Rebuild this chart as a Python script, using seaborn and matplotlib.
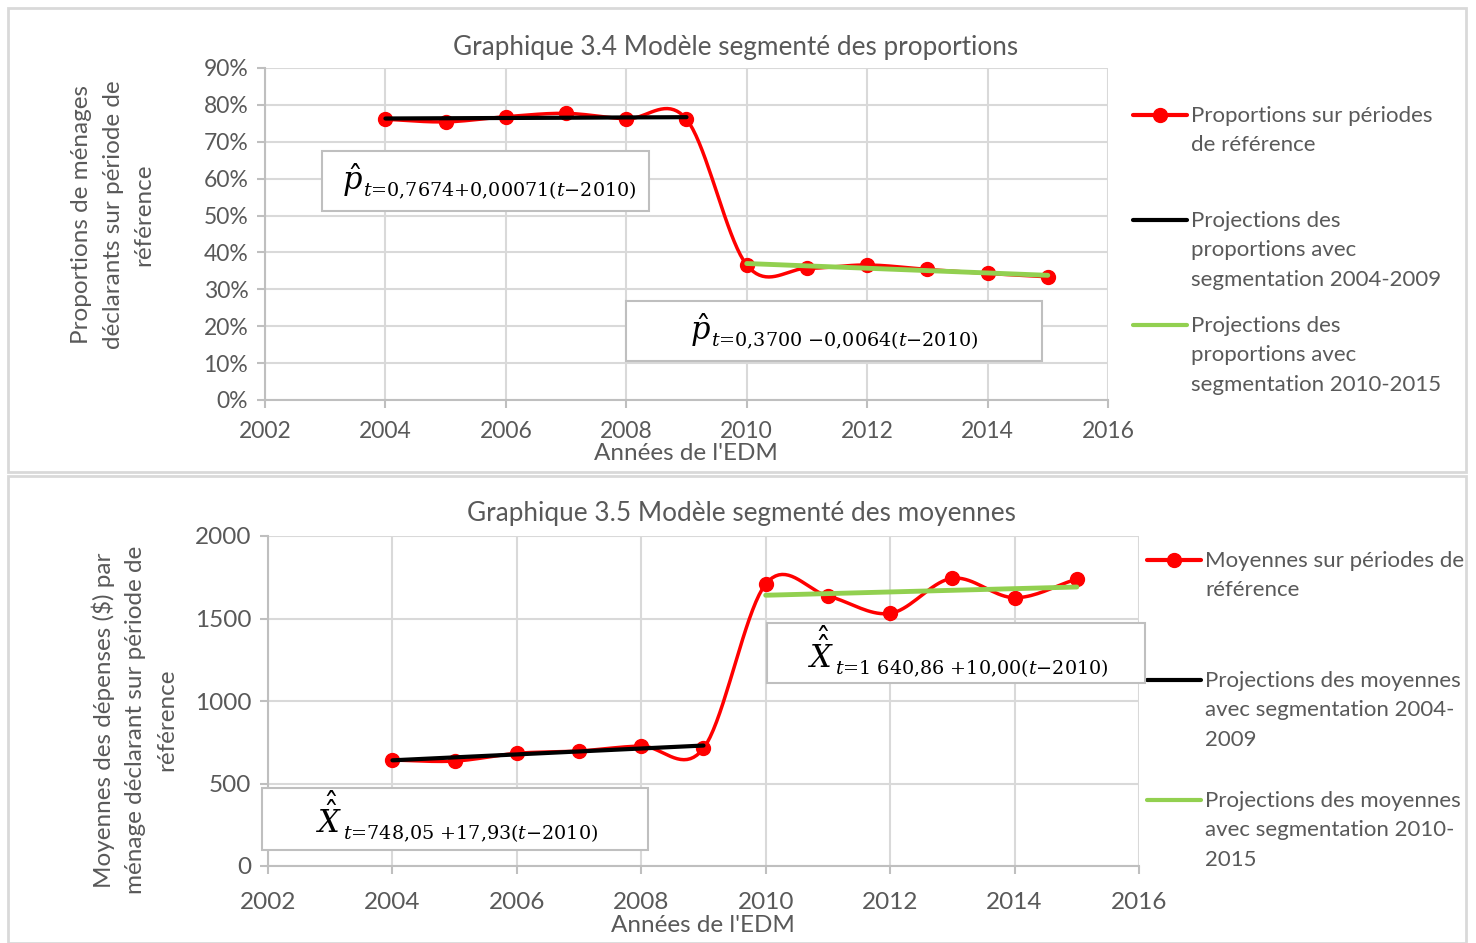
import numpy as np
import matplotlib.pyplot as plt
import seaborn as sns
from matplotlib.lines import Line2D
from matplotlib.patches import Rectangle
from matplotlib.text import Annotation

# données
annees = [2004, 2005, 2006, 2007, 2008, 2009, 2010, 2011, 2012, 2013, 2014, 2015]
proportions = [0.761, 0.754, 0.768, 0.777, 0.762, 0.761, 0.366, 0.357, 0.366, 0.354, 0.343, 0.334]
proj_p_0409 = [0.7631, 0.7638, 0.7645, 0.7652, 0.7660, 0.7667]
proj_p_1015 = [0.3700, 0.3636, 0.3572, 0.3508, 0.3444, 0.3380]
moyennes = [642, 636, 683, 697, 727, 713, 1709, 1636, 1531, 1744, 1626, 1739]
proj_m_0409 = [640.5, 658.4, 676.3, 694.3, 712.2, 730.1]
proj_m_1015 = [1640.9, 1650.9, 1660.9, 1670.9, 1680.9, 1690.9]

W, H = 1476, 943
GRIS = '#595959'
GRILLE = '#d9d9d9'
VERT = '#92d050'

sns.set_theme(style='white')
plt.rcParams['font.family'] = ['Lato', 'DejaVu Sans']
plt.rcParams['mathtext.fontset'] = 'dejavuserif'


def fx(px):
    return px / W


def fy(py):
    return 1 - py / H


def lisse(x, y, n=20):
    # courbe lissée type Excel (Catmull-Rom) passant par les points
    x = np.asarray(x, float)
    y = np.asarray(y, float)
    px = np.concatenate([[2 * x[0] - x[1]], x, [2 * x[-1] - x[-2]]])
    py = np.concatenate([[2 * y[0] - y[1]], y, [2 * y[-1] - y[-2]]])
    xs, ys = [], []
    t = np.linspace(0, 1, n)
    for i in range(1, len(px) - 2):
        for arr, out in ((px, xs), (py, ys)):
            p0, p1, p2, p3 = arr[i - 1], arr[i], arr[i + 1], arr[i + 2]
            out.extend(0.5 * (2 * p1 + (-p0 + p2) * t
                              + (2 * p0 - 5 * p1 + 4 * p2 - p3) * t ** 2
                              + (-p0 + 3 * p1 - 3 * p2 + p3) * t ** 3))
    return xs, ys


fig = plt.figure(figsize=(14.76, 9.43), dpi=100)

# cadres des deux graphiques
fig.add_artist(Rectangle((fx(8), fy(472)), fx(1458), 464 / H, transform=fig.transFigure,
                         fill=False, edgecolor=GRILLE, lw=2))
fig.add_artist(Rectangle((fx(8), fy(943)), fx(1458), 467 / H, transform=fig.transFigure,
                         fill=False, edgecolor=GRILLE, lw=2))


def prepare(ax, ylim, yticks, fs, padx):
    ax.set_xlim(2002, 2016)
    ax.set_ylim(*ylim)
    ax.set_xticks(range(2002, 2017, 2))
    ax.set_yticks(yticks)
    ax.grid(True, color=GRILLE, lw=1.5)
    ax.set_axisbelow(True)
    for s in ['top', 'right']:
        ax.spines[s].set_visible(False)
    for s in ['left', 'bottom']:
        ax.spines[s].set_color('#bfbfbf')
        ax.spines[s].set_linewidth(1.5)
    ax.tick_params(axis='both', direction='out', length=6, width=1.5, color='#bfbfbf',
                   labelsize=fs, labelcolor=GRIS, left=True, bottom=True, pad=6)
    ax.tick_params(axis='x', pad=padx)


def trace(ax, y, proj1, proj2):
    xa, ya = lisse(annees, y)
    ax.plot(xa, ya, color='red', lw=2.5, zorder=3)
    ax.plot(annees, y, 'o', color='red', ms=10, zorder=4)
    ax.plot(annees[:6], proj1, color='black', lw=3, zorder=5)
    ax.plot(annees[6:], proj2, color=VERT, lw=3.5, zorder=5)


def boite(x0, y0, x1, y1, xt, sym, sub, dy, off):
    fig.add_artist(Rectangle((fx(x0), fy(y1)), fx(x1 - x0), (y1 - y0) / H,
                             transform=fig.transFigure, facecolor='white',
                             edgecolor='#bfbfbf', lw=1.5, zorder=10))
    base = (y0 + y1) / 2 + dy
    t1 = fig.text(fx(xt), fy(base), sym, ha='left', va='baseline',
                  fontsize=22, color='black', zorder=11)
    fig.add_artist(Annotation(sub, xy=(1, 0), xycoords=t1, xytext=(0, off),
                              textcoords='offset points', ha='left', va='baseline',
                              fontsize=13.8, color='black', zorder=11, family='DejaVu Serif'))


def legende(xl, entries, fs):
    for y, col, marker, label in entries:
        fig.add_artist(Line2D([fx(xl), fx(xl + 54)], [fy(y), fy(y)], transform=fig.transFigure,
                              color=col, lw=3))
        if marker:
            fig.add_artist(Line2D([fx(xl + 27)], [fy(y)], transform=fig.transFigure,
                                  color=col, marker='o', ms=10))
        fig.text(fx(xl + 58), fy(y - 9), label, ha='left', va='top', fontsize=fs,
                 color=GRIS, linespacing=1.58)


# ---- Graphique 3.4
ax1 = fig.add_axes([fx(265), fy(400), fx(1108 - 265), (400 - 68) / H])
prepare(ax1, (0, 0.9), np.arange(0, 0.91, 0.1), 16.5, 9)
ax1.set_yticklabels([f'{int(round(v * 100))}%' for v in np.arange(0, 0.91, 0.1)])
trace(ax1, proportions, proj_p_0409, proj_p_1015)
fig.text(fx(736), fy(47), 'Graphique 3.4 Modèle segmenté des proportions', ha='center',
         va='center', fontsize=18.8, color=GRIS)
fig.text(fx(686), fy(453), "Années de l'EDM", ha='center', va='center', fontsize=17.5, color=GRIS)
fig.text(fx(113), fy(215), 'Proportions de ménages\ndéclarants sur période de\nréférence',
         rotation=90, ha='center', va='center', fontsize=17.5, color=GRIS, linespacing=1.6)
boite(322, 151, 649, 211, 342, r'$\hat{p}$', '$t$=0,7674+0,00071($t$−2010)', 9, 2)
boite(626, 301, 1042, 361, 690, r'$\hat{p}$', '$t$=0,3700 −0,0064($t$−2010)', 9, 2)
legende(1133, [
    (115, 'red', True, 'Proportions sur périodes\nde référence'),
    (220, 'black', False, 'Projections des\nproportions avec\nsegmentation 2004-2009'),
    (325, VERT, False, 'Projections des\nproportions avec\nsegmentation 2010-2015'),
], 16)

# ---- Graphique 3.5
ax2 = fig.add_axes([fx(268), fy(866), fx(1139 - 268), (866 - 536) / H])
prepare(ax2, (0, 2000), range(0, 2001, 500), 17.5, 13)
trace(ax2, moyennes, proj_m_0409, proj_m_1015)
fig.text(fx(741), fy(514), 'Graphique 3.5 Modèle segmenté des moyennes', ha='center',
         va='center', fontsize=18.8, color=GRIS)
fig.text(fx(703), fy(925), "Années de l'EDM", ha='center', va='center', fontsize=17.5, color=GRIS)
fig.text(fx(134), fy(720), 'Moyennes des dépenses ($) par\nménage déclarant sur période de\nréférence',
         rotation=90, ha='center', va='center', fontsize=17.5, color=GRIS, linespacing=1.6)
boite(767, 623, 1145, 683, 808, r'$\hat{\hat{X}}$', '$t$=1 640,86 +10,00($t$−2010)', 15, -1)
boite(262, 788, 648, 850, 316, r'$\hat{\hat{X}}$', '$t$=748,05 +17,93($t$−2010)', 14, -1)
legende(1147, [
    (560, 'red', True, 'Moyennes sur périodes de\nréférence'),
    (680, 'black', False, 'Projections des moyennes\navec segmentation 2004-\n2009'),
    (800, VERT, False, 'Projections des moyennes\navec segmentation 2010-\n2015'),
], 16)

fig.savefig('out.png', dpi=100)
